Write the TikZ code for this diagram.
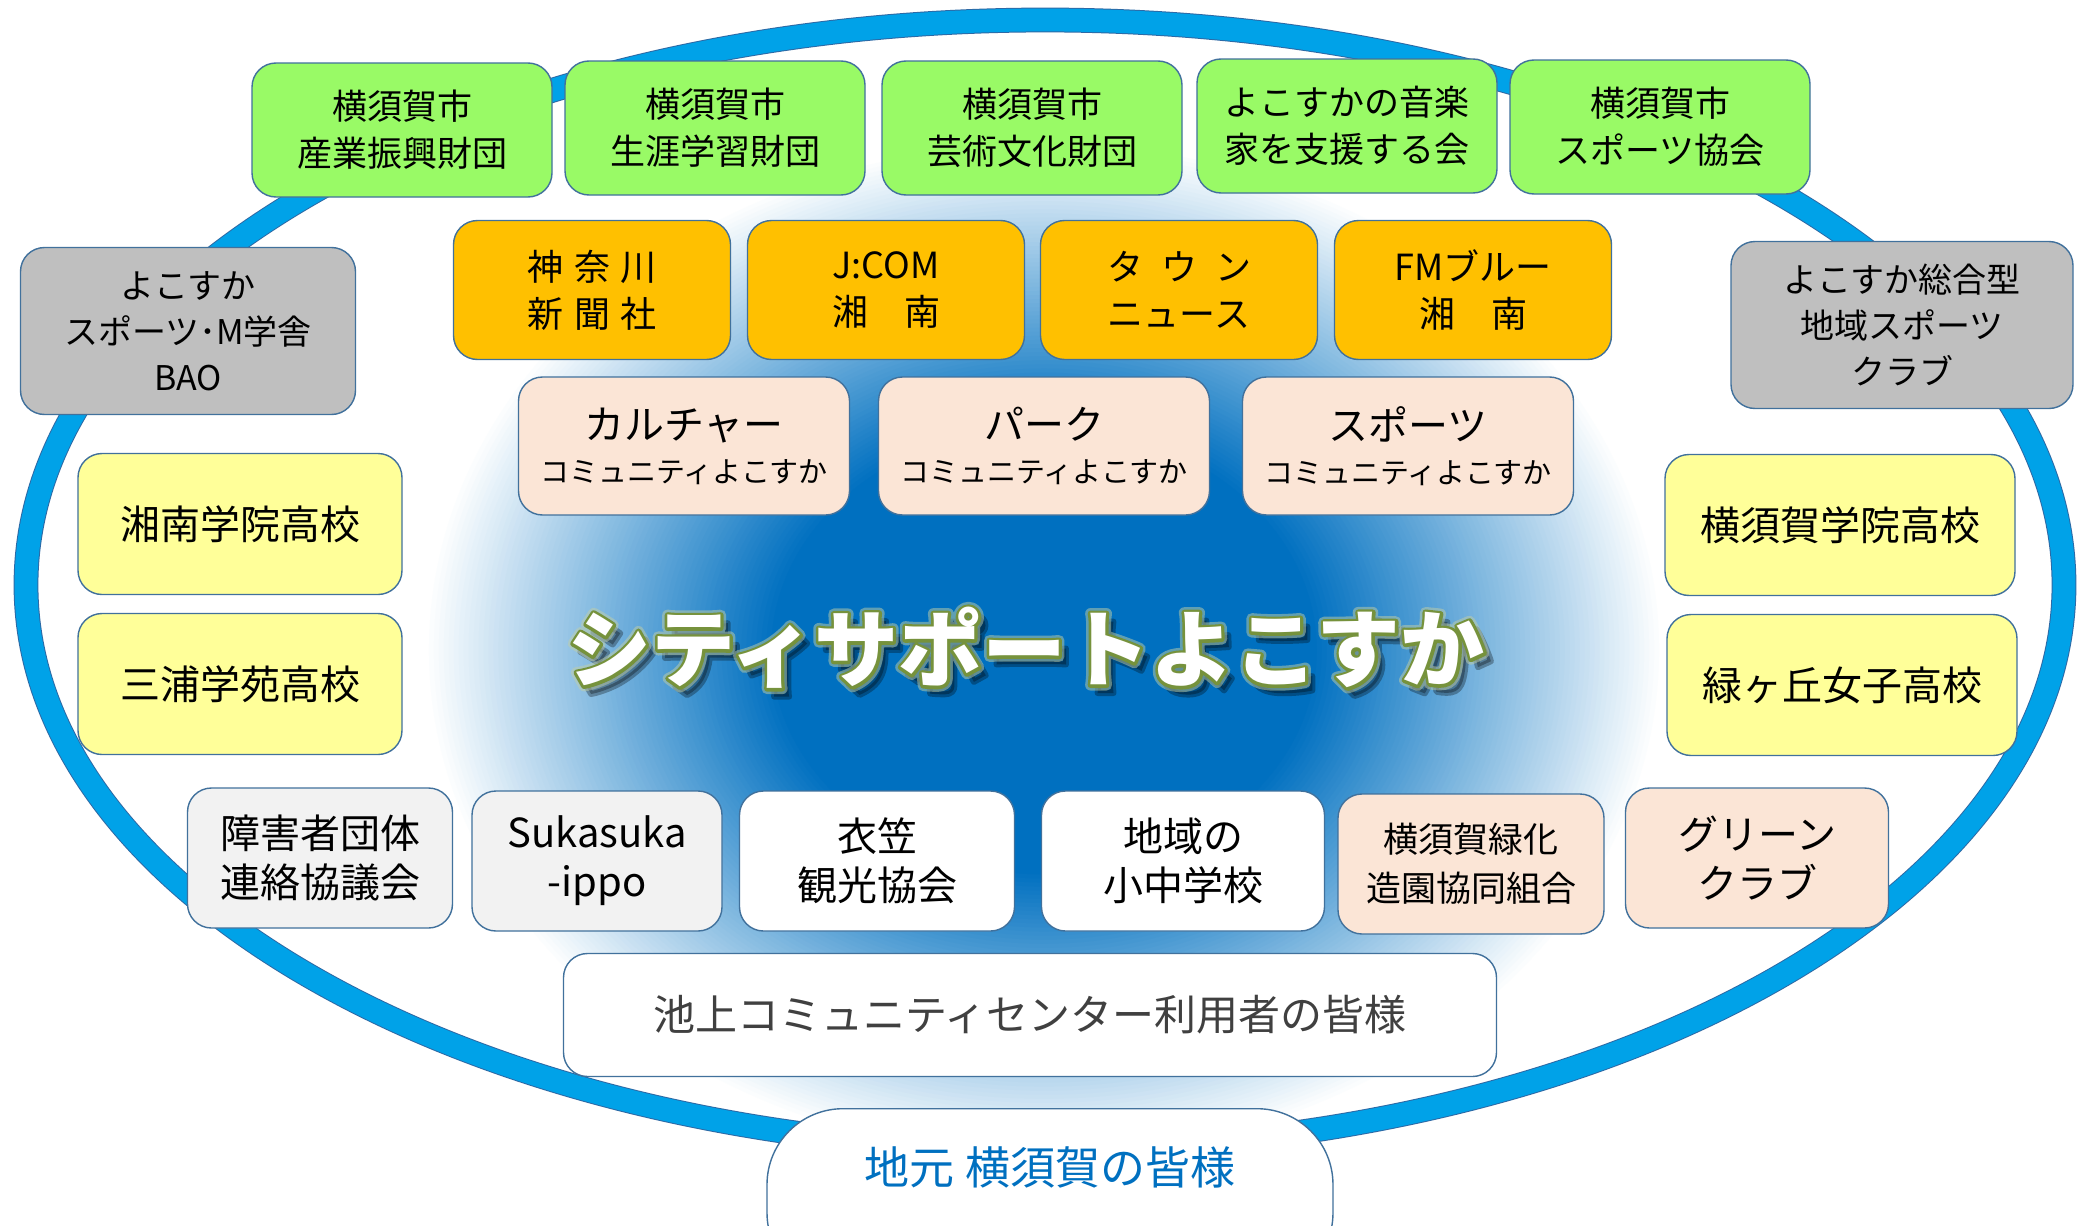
\documentclass[tikz,border=0pt]{standalone}
\usepackage{fontspec}
\setmainfont{Noto Sans CJK JP}
\newfontfamily\ttlout[BoldFeatures={FakeBold=7}]{Noto Sans CJK JP}
\newfontfamily\ttlglow[BoldFeatures={FakeBold=13}]{Noto Sans CJK JP}
\definecolor{ringc}{RGB}{0,162,232}
\definecolor{ringedge}{RGB}{45,105,165}
\definecolor{dkb}{RGB}{0,112,192}
\definecolor{grn}{RGB}{153,250,102}
\definecolor{org}{RGB}{255,192,0}
\definecolor{pch}{RGB}{251,229,214}
\definecolor{gry}{RGB}{191,191,191}
\definecolor{ylw}{RGB}{255,255,153}
\definecolor{lgr}{RGB}{242,242,242}
\definecolor{bord}{RGB}{65,113,156}
\definecolor{txtg}{RGB}{64,64,64}
\definecolor{olv}{RGB}{118,146,60}
\tikzset{
 bx/.style={draw=bord, line width=0.7pt, rounded corners=12pt, align=center, inner sep=0pt, text=black},
 gbox/.style={bx, fill=grn, minimum width=150pt, minimum height=67pt, font=\fontsize{17.5}{23.5}\selectfont},
 obox/.style={bx, fill=org, minimum width=138.5pt, minimum height=69.5pt, font=\fontsize{18}{23.5}\selectfont},
 pbox/.style={bx, fill=pch, minimum width=165.5pt, minimum height=69pt, font=\fontsize{20}{21.5}\selectfont},
 gybox/.style={bx, fill=gry, minimum height=83.5pt, font=\fontsize{17}{23}\selectfont},
 ybox/.style={bx, fill=ylw, minimum height=70.5pt, font=\fontsize{20}{24}\selectfont},
 rbox/.style={bx, minimum height=70pt, font=\fontsize{20}{24.5}\selectfont},
 ttl/.style={inner sep=0pt, font=\fontsize{42}{46}\selectfont\bfseries},
}
\newcommand{\pl}[2]{#1\\\fontsize{14.5}{21.5}\selectfont #2}
\begin{document}
\begin{tikzpicture}[x=0.5pt,y=-0.5pt]
\useasboundingbox (0,0) rectangle (2085,1226);
\clip (0,0) rectangle (2085,1226);
\fill[white] (0,0) rectangle (2085,1226);
% glow
\foreach \k in {0,...,70} {
  \pgfmathsetmacro\f{1-0.56*\k/70}
  \pgfmathsetmacro\c{100*\k/70}
  \fill[dkb!\c!white] (1044,650) ellipse [x radius=\f*310pt, y radius=\f*255pt];
}
% ring
\draw[ringedge, line width=12.4pt] (1045,585) ellipse [x radius=509.5pt, y radius=282.5pt];
\draw[ringc, line width=11.4pt] (1045,585) ellipse [x radius=509.5pt, y radius=282.5pt];
% green row
\node[gbox] (g1) at (402,130) {横須賀市\\産業振興財団};
\node[gbox] (g2) at (715,128) {横須賀市\\生涯学習財団};
\node[gbox] (g3) at (1032,128) {横須賀市\\芸術文化財団};
\node[gbox] (g4) at (1347,126) {よこすかの音楽\\家を支援する会};
\node[gbox] (g5) at (1660,127) {横須賀市\\スポーツ協会};
% orange row
\node[obox] (o1) at (592,290) {神\hspace{0.3em}奈\hspace{0.3em}川\\新\hspace{0.3em}聞\hspace{0.3em}社};
\node[obox] (o2) at (886,290) {J:COM\\湘\hspace{1em}南};
\node[obox] (o3) at (1179,290) {タ\hspace{0.5em}ウ\hspace{0.5em}ン\\ニュース};
\node[obox] (o4) at (1473,290) {FMブルー\\湘\hspace{1em}南};
% peach row
\node[pbox] (p1) at (684,446) {\pl{カルチャー}{コミュニティよこすか}};
\node[pbox] (p2) at (1044,446) {\pl{パーク}{コミュニティよこすか}};
\node[pbox] (p3) at (1408,446) {\pl{スポーツ}{コミュニティよこすか}};
% gray
\node[gybox, minimum width=167.5pt] (s1) at (188,331) {よこすか\\スポーツ･M学舎\\BAO};
\node[gybox, minimum width=171pt] (s2) at (1902,325) {よこすか総合型\\地域スポーツ\\クラブ};
% yellow
\node[ybox, minimum width=162pt] (y1) at (240,524) {湘南学院高校};
\node[ybox, minimum width=162pt] (y2) at (240,684) {三浦学苑高校};
\node[ybox, minimum width=175pt] (y3) at (1840,525) {横須賀学院高校};
\node[ybox, minimum width=175pt] (y4) at (1842,685) {緑ヶ丘女子高校};
% bottom row
\node[rbox, fill=lgr, minimum width=132.5pt] (b1) at (320,858) {障害者団体\\連絡協議会};
\node[rbox, fill=lgr, minimum width=125pt] (b2) at (597,861) {Sukasuka\\-ippo};
\node[rbox, fill=white, minimum width=137.5pt] (b3) at (877,861) {衣笠\\観光協会};
\node[rbox, fill=white, minimum width=141.5pt] (b4) at (1183,861) {地域の\\小中学校};
\node[rbox, fill=pch, minimum width=133pt, font=\fontsize{17.5}{24.5}\selectfont] (b5) at (1471,864) {横須賀緑化\\造園協同組合};
\node[rbox, fill=pch, minimum width=131.5pt] (b6) at (1757,858) {グリーン\\クラブ};
% users
\node[bx, fill=white, minimum width=466.5pt, minimum height=61.5pt, text=txtg, font=\fontsize{21}{25}\selectfont] (ik) at (1030,1015) {池上コミュニティセンター利用者の皆様};
% bottom
\node[bx, fill=white, rounded corners=38pt, minimum width=283pt, minimum height=90pt, anchor=north] (jm) at (1050,1108) {};
\node[text=dkb, inner sep=0pt, font=\fontsize{22.5}{26}\selectfont] (jmt) at (1050,1167) {地元 横須賀の皆様};
% title
\begin{scope}[line join=round]
\node[ttl, font=\ttlout\fontsize{42}{46}\selectfont\bfseries, text=black, opacity=0.3] (tsh) at (1033,656) {シティサポートよこすか};
\node[ttl, font=\ttlglow\fontsize{42}{46}\selectfont\bfseries, text=olv!45!white, opacity=0.5] (tgl) at (1026,648) {シティサポートよこすか};
\node[ttl, font=\ttlout\fontsize{42}{46}\selectfont\bfseries, text=olv] (tol) at (1026,648) {シティサポートよこすか};
\node[ttl, text=white] (title) at (1026,648) {シティサポートよこすか};
\end{scope}
\end{tikzpicture}
\end{document}
